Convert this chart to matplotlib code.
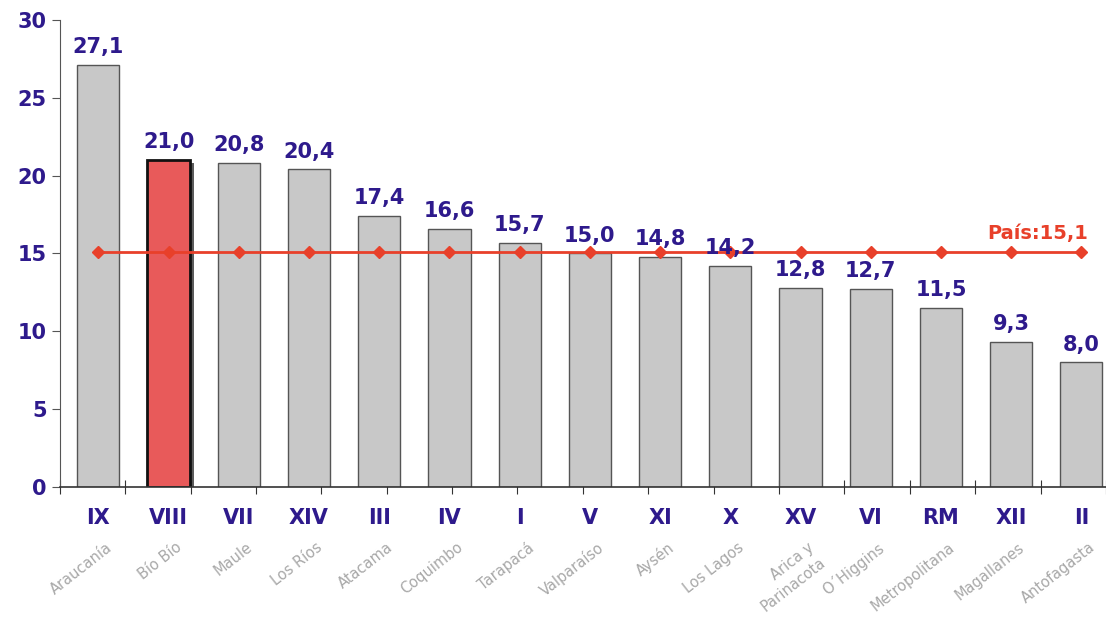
import numpy as np
import matplotlib.pyplot as plt
import matplotlib.patheffects as pe

codes = ['IX', 'VIII', 'VII', 'XIV', 'III', 'IV', 'I', 'V', 'XI', 'X',
         'XV', 'VI', 'RM', 'XII', 'II']
regions = ['Araucanía', 'Bío Bío', 'Maule', 'Los Ríos', 'Atacama', 'Coquimbo',
           'Tarapacá', 'Valparaíso', 'Aysén', 'Los Lagos', 'Arica y\nParinacota',
           "O´Higgins", 'Metropolitana', 'Magallanes', 'Antofagasta']
values = [27.1, 21.0, 20.8, 20.4, 17.4, 16.6, 15.7, 15.0, 14.8, 14.2,
          12.8, 12.7, 11.5, 9.3, 8.0]
pais = 15.1
highlight = 'VIII'

navy = '#2e1a8c'
red = '#e8402a'

fig = plt.figure(figsize=(11.06, 6.25), dpi=100)
ax = fig.add_axes([0.054, 0.221, 0.946, 0.747])

x = np.arange(len(values))
colors = ['#e85a5a' if c == highlight else '#c8c8c8' for c in codes]
edges = ['#111111' if c == highlight else '#555555' for c in codes]
lws = [2.0 if c == highlight else 1.0 for c in codes]
bars = ax.bar(x, values, width=0.6, color=colors, edgecolor=edges, linewidth=lws, zorder=2)
for b, c in zip(bars, codes):
    if c == highlight:
        b.set_path_effects([pe.SimplePatchShadow(offset=(3, -2), shadow_rgbFace='#333333', alpha=0.8),
                            pe.Normal()])

# national average line
ax.plot(x, [pais] * len(x), color=red, lw=2, marker='D', markersize=6, zorder=3)
ax.text(x[-1] + 0.1, pais + 0.55, 'País:' + f'{pais:.1f}'.replace('.', ','),
        color=red, fontsize=14, fontweight='bold', ha='right', va='bottom')

for xi, v in zip(x, values):
    ax.text(xi, v + 0.5, f'{v:.1f}'.replace('.', ','), ha='center', va='bottom',
            color=navy, fontsize=15, fontweight='bold', zorder=4)

ax.set_xlim(-0.55, 14.35)
ax.set_ylim(0, 30)
ax.set_yticks(np.arange(0, 31, 5))
ax.tick_params(axis='y', labelsize=15, labelcolor=navy, length=6, color='#555555')
for t in ax.get_yticklabels():
    t.set_fontweight('bold')

ax.set_xticks(np.linspace(-0.55, 14.35, 17))
ax.set_xticklabels([])
ax.tick_params(axis='x', direction='inout', length=10, color='#333333')

for s in ['top', 'right']:
    ax.spines[s].set_visible(False)
ax.spines['left'].set_color('#555555')
ax.spines['bottom'].set_color('#333333')
ax.spines['bottom'].set_linewidth(1.2)

for xi, c, r in zip(x, codes, regions):
    ax.text(xi, -2.0, c, ha='center', va='center', color=navy, fontsize=15,
            fontweight='bold', clip_on=False)
    ax.text(xi + 0.1, -3.4, r, ha='right', va='top', color='#a8a8a8', fontsize=10.5,
            rotation=38, rotation_mode='anchor', clip_on=False, linespacing=1.3)

fig.savefig('out.png', dpi=100)
